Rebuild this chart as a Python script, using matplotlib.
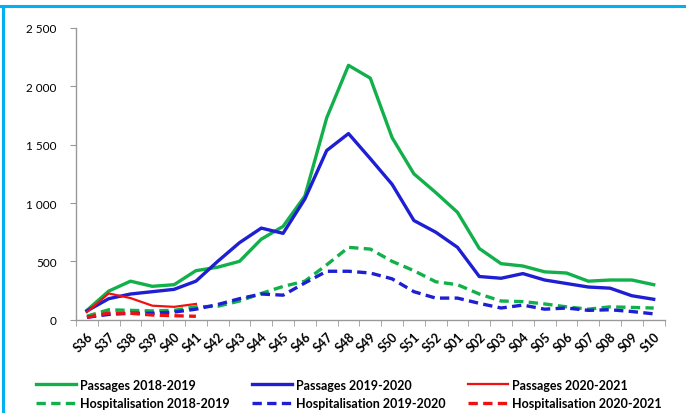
import matplotlib.pyplot as plt
from matplotlib.lines import Line2D
from matplotlib.ticker import FuncFormatter, FixedLocator

weeks = ["S36", "S37", "S38", "S39", "S40", "S41", "S42", "S43", "S44", "S45",
         "S46", "S47", "S48", "S49", "S50", "S51", "S52", "S01", "S02", "S03",
         "S04", "S05", "S06", "S07", "S08", "S09", "S10"]

passages_2018 = [80, 245, 330, 286, 300, 420, 450, 500, 690, 800,
                 1060, 1730, 2180, 2070, 1560, 1250, 1090, 920, 610, 480,
                 460, 410, 400, 330, 340, 340, 300]
passages_2019 = [75, 180, 220, 240, 260, 330, 500, 660, 785, 740,
                 1035, 1450, 1595, 1380, 1160, 850, 750, 620, 370, 355,
                 395, 340, 310, 280, 270, 205, 175]
passages_2020 = [65, 225, 185, 120, 110, 135]

hosp_2018 = [30, 85, 80, 75, 80, 110, 115, 160, 225, 285,
             330, 470, 620, 605, 500, 420, 325, 300, 220, 160,
             155, 135, 110, 90, 110, 105, 100]
hosp_2019 = [20, 45, 55, 55, 65, 90, 130, 180, 220, 210,
             315, 415, 415, 400, 350, 240, 185, 185, 140, 100,
             125, 90, 100, 80, 85, 70, 50]
hosp_2020 = [20, 57, 55, 40, 34, 29]

GREEN = "#12B04A"
BLUE = "#1E1ED2"
RED = "#F01010"

plt.rcParams["font.family"] = ["Lato", "DejaVu Sans"]

fig = plt.figure(figsize=(6.86, 4.14), dpi=100)
ax = fig.add_axes([0.1108, 0.2254, 0.858, 0.7046])

x_all = list(range(len(weeks)))
x_new = x_all[:len(passages_2020)]
dash = (0, (2.8, 1.6))

ax.plot(x_all, passages_2018, color=GREEN, lw=2.4, label="Passages 2018-2019")
ax.plot(x_all, hosp_2018, color=GREEN, lw=2.4, ls=dash, label="Hospitalisation 2018-2019")
ax.plot(x_all, passages_2019, color=BLUE, lw=2.4, label="Passages 2019-2020")
ax.plot(x_all, hosp_2019, color=BLUE, lw=2.4, ls=dash, label="Hospitalisation 2019-2020")
ax.plot(x_new, passages_2020, color=RED, lw=1.6, label="Passages 2020-2021")
ax.plot(x_new, hosp_2020, color=RED, lw=2.4, ls=dash, label="Hospitalisation 2020-2021")

ax.set_xlim(-0.5, len(weeks) - 0.5)
ax.set_ylim(0, 2500)

# category labels at centres, tick marks at boundaries (Excel style)
ax.set_xticks(x_all)
ax.set_xticklabels(weeks, rotation=45, ha="right", va="top",
                   rotation_mode="anchor", fontsize=9, fontweight="bold")
ax.tick_params(axis="x", which="major", length=0, pad=7)
ax.xaxis.set_minor_locator(FixedLocator([i - 0.5 for i in range(len(weeks) + 1)]))
ax.tick_params(axis="x", which="minor", length=4, color="#999999", direction="out")

ax.set_yticks(range(0, 2501, 500))
ax.yaxis.set_major_formatter(FuncFormatter(lambda v, p: f"{int(v):,}".replace(",", " ")))
ax.tick_params(axis="y", length=4, color="#999999", labelsize=8.5, pad=10)

for s in ["top", "right"]:
    ax.spines[s].set_visible(False)
for s in ["left", "bottom"]:
    ax.spines[s].set_color("#999999")
    ax.spines[s].set_linewidth(1)

handles, labels = ax.get_legend_handles_labels()
fig.legend(handles, labels, ncol=3, loc="center left",
           bbox_to_anchor=(0.053, 0.046), frameon=False,
           prop={"size": 9.0, "weight": "bold"},
           handlelength=3.2, handletextpad=0.3, columnspacing=1.8,
           labelspacing=0.55, borderaxespad=0, borderpad=0)

# frame lines of the original slide (top and left)
fig.add_artist(Line2D([0, 1], [0.984, 0.984], transform=fig.transFigure,
                      color="#00B0F0", lw=2.2))
fig.add_artist(Line2D([0.005, 0.005], [0, 0.984], transform=fig.transFigure,
                      color="#00B0F0", lw=2.2))

fig.savefig("out.png", dpi=100)
